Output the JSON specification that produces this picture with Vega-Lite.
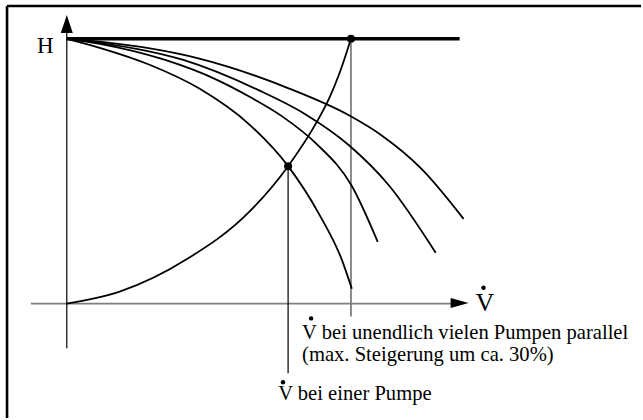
{
  "$schema": "https://vega.github.io/schema/vega-lite/v6.json",
  "width": 643,
  "height": 420,
  "padding": 0,
  "autosize": {"type": "fit", "contains": "padding"},
  "background": "white",
  "config": {"view": {"stroke": null}, "text": {"font": "'Liberation Serif', 'Times New Roman', 'DejaVu Serif', serif"}},
  "layer": [
    {
      "data": {"values": [
        {"V": -0.27, "H": 1.124, "V2": 2.5946, "H2": 1.124},
        {"V": -0.27, "H": 1.124, "V2": -0.27, "H2": -0.4323}
      ]},
      "mark": {"type": "rule", "color": "black", "strokeWidth": 2.6},
      "encoding": {
        "x": {"field": "V", "type": "quantitative", "scale": {"domain": [-0.3018, 2.5946], "nice": false, "zero": false}, "axis": null},
        "y": {"field": "H", "type": "quantitative", "scale": {"domain": [-0.4323, 1.1466], "nice": false, "zero": false}, "axis": null},
        "x2": {"field": "V2"},
        "y2": {"field": "H2"}
      }
    },
    {
      "data": {"values": [
        {"V": -0.162, "H": 0, "V2": 1.74, "H2": 0},
        {"V": 1.284, "H": 1.0, "V2": 1.284, "H2": -0.049}
      ]},
      "mark": {"type": "rule", "color": "#7f7f7f", "strokeWidth": 1.8},
      "encoding": {
        "x": {"field": "V", "type": "quantitative", "scale": {"domain": [-0.3018, 2.5946], "nice": false, "zero": false}, "axis": null},
        "y": {"field": "H", "type": "quantitative", "scale": {"domain": [-0.4323, 1.1466], "nice": false, "zero": false}, "axis": null},
        "x2": {"field": "V2"},
        "y2": {"field": "H2"}
      }
    },
    {
      "data": {"values": [
        {"V": 0, "H": -0.169, "V2": 0, "H2": 1.03},
        {"V": 1.0, "H": 0.519, "V2": 1.0, "H2": -0.263}
      ]},
      "mark": {"type": "rule", "color": "black", "strokeWidth": 1.2},
      "encoding": {
        "x": {"field": "V", "type": "quantitative", "scale": {"domain": [-0.3018, 2.5946], "nice": false, "zero": false}, "axis": null},
        "y": {"field": "H", "type": "quantitative", "scale": {"domain": [-0.4323, 1.1466], "nice": false, "zero": false}, "axis": null},
        "x2": {"field": "V2"},
        "y2": {"field": "H2"}
      }
    },
    {
      "data": {"values": [
        {"V": 0, "H": 1.0, "V2": 1.775, "H2": 1.0}
      ]},
      "mark": {"type": "rule", "color": "black", "strokeWidth": 3.5},
      "encoding": {
        "x": {"field": "V", "type": "quantitative", "scale": {"domain": [-0.3018, 2.5946], "nice": false, "zero": false}, "axis": null},
        "y": {"field": "H", "type": "quantitative", "scale": {"domain": [-0.4323, 1.1466], "nice": false, "zero": false}, "axis": null},
        "x2": {"field": "V2"},
        "y2": {"field": "H2"}
      }
    },
    {
      "data": {"values": [
        {"kurve": "Anlage", "V": 0, "H": 0},
        {"kurve": "Anlage", "V": 0.239, "H": 0.045},
        {"kurve": "Anlage", "V": 0.545, "H": 0.169},
        {"kurve": "Anlage", "V": 0.824, "H": 0.346},
        {"kurve": "Anlage", "V": 1.0, "H": 0.519},
        {"kurve": "Anlage", "V": 1.131, "H": 0.688},
        {"kurve": "Anlage", "V": 1.185, "H": 0.774},
        {"kurve": "Anlage", "V": 1.23, "H": 0.865},
        {"kurve": "Anlage", "V": 1.261, "H": 0.94},
        {"kurve": "Anlage", "V": 1.284, "H": 1.0},
        {"kurve": "1 Pumpe", "V": 0, "H": 1.0},
        {"kurve": "1 Pumpe", "V": 0.149, "H": 0.966},
        {"kurve": "1 Pumpe", "V": 0.374, "H": 0.902},
        {"kurve": "1 Pumpe", "V": 0.599, "H": 0.812},
        {"kurve": "1 Pumpe", "V": 0.824, "H": 0.677},
        {"kurve": "1 Pumpe", "V": 1.0, "H": 0.519},
        {"kurve": "1 Pumpe", "V": 1.14, "H": 0.338},
        {"kurve": "1 Pumpe", "V": 1.243, "H": 0.165},
        {"kurve": "1 Pumpe", "V": 1.288, "H": 0.056},
        {"kurve": "2 Pumpen", "V": 0, "H": 1.0},
        {"kurve": "2 Pumpen", "V": 0.149, "H": 0.981},
        {"kurve": "2 Pumpen", "V": 0.441, "H": 0.921},
        {"kurve": "2 Pumpen", "V": 0.676, "H": 0.846},
        {"kurve": "2 Pumpen", "V": 0.824, "H": 0.782},
        {"kurve": "2 Pumpen", "V": 0.973, "H": 0.707},
        {"kurve": "2 Pumpen", "V": 1.126, "H": 0.605},
        {"kurve": "2 Pumpen", "V": 1.288, "H": 0.444},
        {"kurve": "2 Pumpen", "V": 1.405, "H": 0.233},
        {"kurve": "3 Pumpen", "V": 0, "H": 1.0},
        {"kurve": "3 Pumpen", "V": 0.149, "H": 0.985},
        {"kurve": "3 Pumpen", "V": 0.523, "H": 0.921},
        {"kurve": "3 Pumpen", "V": 0.869, "H": 0.805},
        {"kurve": "3 Pumpen", "V": 1.072, "H": 0.718},
        {"kurve": "3 Pumpen", "V": 1.275, "H": 0.598},
        {"kurve": "3 Pumpen", "V": 1.455, "H": 0.447},
        {"kurve": "3 Pumpen", "V": 1.667, "H": 0.192},
        {"kurve": "4 Pumpen", "V": 0, "H": 1.0},
        {"kurve": "4 Pumpen", "V": 0.149, "H": 0.989},
        {"kurve": "4 Pumpen", "V": 0.599, "H": 0.925},
        {"kurve": "4 Pumpen", "V": 1.005, "H": 0.812},
        {"kurve": "4 Pumpen", "V": 1.275, "H": 0.711},
        {"kurve": "4 Pumpen", "V": 1.423, "H": 0.635},
        {"kurve": "4 Pumpen", "V": 1.604, "H": 0.508},
        {"kurve": "4 Pumpen", "V": 1.793, "H": 0.32}
      ]},
      "mark": {"type": "line", "color": "black", "strokeWidth": 1.8, "interpolate": "monotone"},
      "encoding": {
        "x": {"field": "V", "type": "quantitative", "scale": {"domain": [-0.3018, 2.5946], "nice": false, "zero": false}, "axis": null},
        "y": {"field": "H", "type": "quantitative", "scale": {"domain": [-0.4323, 1.1466], "nice": false, "zero": false}, "axis": null},
        "detail": {"field": "kurve", "type": "nominal"}
      }
    },
    {
      "data": {"values": [
        {"V": 1.0, "H": 0.519},
        {"V": 1.284, "H": 1.0}
      ]},
      "mark": {"type": "point", "shape": "circle", "filled": true, "color": "black", "size": 64, "opacity": 1},
      "encoding": {
        "x": {"field": "V", "type": "quantitative", "scale": {"domain": [-0.3018, 2.5946], "nice": false, "zero": false}, "axis": null},
        "y": {"field": "H", "type": "quantitative", "scale": {"domain": [-0.4323, 1.1466], "nice": false, "zero": false}, "axis": null}
      }
    },
    {
      "data": {"values": [
        {"V": 1.883, "H": 0.06},
        {"V": 1.104, "H": -0.056},
        {"V": 0.977, "H": -0.297}
      ]},
      "mark": {"type": "point", "shape": "circle", "filled": true, "color": "black", "size": 20, "opacity": 1},
      "encoding": {
        "x": {"field": "V", "type": "quantitative", "scale": {"domain": [-0.3018, 2.5946], "nice": false, "zero": false}, "axis": null},
        "y": {"field": "H", "type": "quantitative", "scale": {"domain": [-0.4323, 1.1466], "nice": false, "zero": false}, "axis": null}
      }
    },
    {
      "data": {"values": [{"V": 0, "H": 1.056}]},
      "mark": {"type": "point", "shape": "M-0.667,1L0,-1L0.667,1Z", "filled": true, "color": "black", "size": 324, "opacity": 1, "strokeWidth": 0},
      "encoding": {
        "x": {"field": "V", "type": "quantitative", "scale": {"domain": [-0.3018, 2.5946], "nice": false, "zero": false}, "axis": null},
        "y": {"field": "H", "type": "quantitative", "scale": {"domain": [-0.4323, 1.1466], "nice": false, "zero": false}, "axis": null}
      }
    },
    {
      "data": {"values": [{"V": 1.775, "H": 0.002}]},
      "mark": {"type": "point", "shape": "M-1,-0.556L1,0L-1,0.556Z", "filled": true, "color": "black", "size": 324, "opacity": 1, "strokeWidth": 0},
      "encoding": {
        "x": {"field": "V", "type": "quantitative", "scale": {"domain": [-0.3018, 2.5946], "nice": false, "zero": false}, "axis": null},
        "y": {"field": "H", "type": "quantitative", "scale": {"domain": [-0.4323, 1.1466], "nice": false, "zero": false}, "axis": null}
      }
    },
    {
      "data": {"values": [{"V": -0.135, "H": 0.947, "t": "H"}]},
      "mark": {"type": "text", "align": "left", "baseline": "alphabetic", "font": "'Liberation Serif', 'Times New Roman', 'DejaVu Serif', serif", "fontSize": 23, "color": "black"},
      "encoding": {
        "x": {"field": "V", "type": "quantitative", "scale": {"domain": [-0.3018, 2.5946], "nice": false, "zero": false}, "axis": null},
        "y": {"field": "H", "type": "quantitative", "scale": {"domain": [-0.4323, 1.1466], "nice": false, "zero": false}, "axis": null},
        "text": {"field": "t"}
      }
    },
    {
      "data": {"values": [{"V": 1.847, "H": -0.03, "t": "V"}]},
      "mark": {"type": "text", "align": "left", "baseline": "alphabetic", "font": "'Liberation Serif', 'Times New Roman', 'DejaVu Serif', serif", "fontSize": 26, "color": "black"},
      "encoding": {
        "x": {"field": "V", "type": "quantitative", "scale": {"domain": [-0.3018, 2.5946], "nice": false, "zero": false}, "axis": null},
        "y": {"field": "H", "type": "quantitative", "scale": {"domain": [-0.4323, 1.1466], "nice": false, "zero": false}, "axis": null},
        "text": {"field": "t"}
      }
    },
    {
      "data": {"values": [
        {"V": 1.063, "H": -0.133, "t": "V bei unendlich vielen Pumpen parallel"},
        {"V": 1.063, "H": -0.217, "t": "(max. Steigerung um ca. 30%)"},
        {"V": 0.955, "H": -0.365, "t": "V bei einer Pumpe"}
      ]},
      "mark": {"type": "text", "align": "left", "baseline": "alphabetic", "font": "'Liberation Serif', 'Times New Roman', 'DejaVu Serif', serif", "fontSize": 20.6, "color": "black"},
      "encoding": {
        "x": {"field": "V", "type": "quantitative", "scale": {"domain": [-0.3018, 2.5946], "nice": false, "zero": false}, "axis": null},
        "y": {"field": "H", "type": "quantitative", "scale": {"domain": [-0.4323, 1.1466], "nice": false, "zero": false}, "axis": null},
        "text": {"field": "t"}
      }
    }
  ]
}
